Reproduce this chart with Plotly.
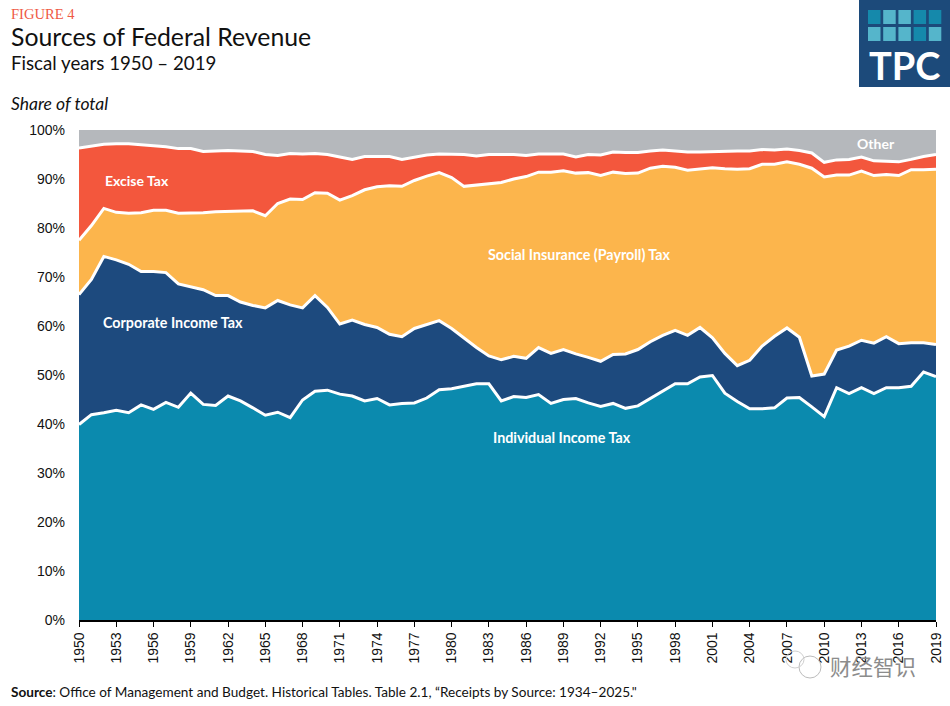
import plotly.graph_objects as go

years = list(range(1950, 2020))

# top edge of each band (percent of total, cumulative)
individual_top = [39.9, 41.9, 42.3, 42.8, 42.3, 43.9, 43.0, 44.4, 43.4, 46.3,
                  44.0, 43.8, 45.7, 44.7, 43.3, 41.8, 42.4, 41.3, 44.9, 46.7,
                  46.9, 46.1, 45.7, 44.7, 45.2, 43.9, 44.2, 44.3, 45.3, 47.0,
                  47.2, 47.7, 48.2, 48.2, 44.7, 45.6, 45.4, 46.0, 44.2, 45.0,
                  45.2, 44.3, 43.6, 44.2, 43.2, 43.7, 45.2, 46.8, 48.2, 48.2,
                  49.6, 49.9, 46.3, 44.6, 43.1, 43.1, 43.3, 45.3, 45.4, 43.5,
                  41.5, 47.4, 46.2, 47.4, 46.2, 47.4, 47.4, 47.7, 50.6, 49.7]
corporate_top = [66.4, 69.5, 74.2, 73.5, 72.6, 71.1, 71.1, 70.9, 68.6, 68.0,
                 67.4, 66.2, 66.2, 64.9, 64.2, 63.7, 65.2, 64.3, 63.7, 66.2,
                 63.8, 60.4, 61.2, 60.3, 59.7, 58.3, 57.8, 59.5, 60.3, 61.1,
                 59.5, 57.6, 55.6, 53.9, 53.1, 53.8, 53.4, 55.6, 54.4, 55.2,
                 54.3, 53.6, 52.8, 54.2, 54.3, 55.2, 56.8, 58.1, 59.1, 58.1,
                 59.7, 57.6, 54.4, 51.9, 53.0, 55.9, 57.9, 59.6, 57.7, 49.8,
                 50.2, 55.1, 55.9, 57.1, 56.5, 57.8, 56.4, 56.6, 56.6, 56.2]
payroll_top = [77.5, 80.5, 84.0, 83.2, 83.0, 83.1, 83.6, 83.6, 83.0, 83.0,
               83.1, 83.3, 83.4, 83.5, 83.5, 82.5, 85.0, 85.9, 85.8, 87.2,
               87.1, 85.7, 86.6, 87.8, 88.4, 88.6, 88.5, 89.7, 90.6, 91.3,
               90.3, 88.5, 88.8, 89.1, 89.3, 90.0, 90.5, 91.4, 91.4, 91.7,
               91.2, 91.3, 90.7, 91.4, 91.1, 91.2, 92.2, 92.6, 92.4, 91.8,
               92.1, 92.3, 92.1, 92.0, 92.1, 93.0, 93.0, 93.5, 93.0, 92.2,
               90.4, 90.8, 90.8, 91.6, 90.7, 90.9, 90.7, 91.9, 91.9, 92.0]
excise_top = [96.3, 96.7, 97.1, 97.2, 97.2, 97.0, 96.8, 96.6, 96.2, 96.2,
              95.6, 95.7, 95.8, 95.7, 95.6, 95.0, 94.8, 95.2, 95.1, 95.2,
              95.0, 94.5, 94.0, 94.6, 94.6, 94.6, 94.0, 94.5, 94.9, 95.1,
              95.0, 95.0, 94.7, 95.0, 95.0, 95.0, 94.8, 95.1, 95.1, 95.1,
              94.5, 95.0, 94.9, 95.5, 95.4, 95.4, 95.7, 95.9, 95.7, 95.5,
              95.5, 95.6, 95.7, 95.7, 95.7, 96.0, 95.9, 96.1, 95.8, 95.3,
              93.4, 93.9, 94.0, 94.5, 93.7, 93.6, 93.5, 94.0, 94.6, 95.0]
other_top = [100.0] * len(years)

band_names = ["Individual Income Tax", "Corporate Income Tax",
              "Social Insurance (Payroll) Tax", "Excise Tax", "Other"]
band_tops = [individual_top, corporate_top, payroll_top, excise_top, other_top]
band_colors = ["#0b8aae", "#1d4a7e", "#fcb54c", "#f3573d", "#b5b8bc"]

x_ticks = list(range(1950, 2017, 3)) + [2019]
y_ticks = list(range(0, 101, 10))

W, H = 950, 706
L, R, T, B = 79, 14, 130, 86
PLOT_W = W - L - R  # plot area ends at x=936


def px(x):
    return (x - L) / PLOT_W


def py(y):
    return 1 - (y - T) / (H - T - B)


fig = go.Figure()

for i in range(len(band_names)):
    fig.add_trace(go.Scatter(
        x=years, y=band_tops[i], name=band_names[i], mode="lines",
        line=dict(width=0), fillcolor=band_colors[i],
        fill="tozeroy" if i == 0 else "tonexty", hoverinfo="x+y",
    ))

# white rules between the bands go on last so no fill covers them
for i in range(len(band_names) - 1):
    fig.add_trace(go.Scatter(
        x=years, y=band_tops[i], mode="lines", hoverinfo="skip",
        line=dict(color="white", width=3),
    ))

shapes = []
annos = []


def text(x, y, s, size, color="black", family="Lato", anchor="left", **kw):
    annos.append(dict(x=px(x), y=py(y), xref="paper", yref="paper", text=s,
                      showarrow=False, xanchor=anchor, yanchor="middle",
                      xshift=-1, font=dict(size=size, color=color, family=family), **kw))


def box(x0, y0, x1, y1, color):
    shapes.append(dict(type="rect", xref="paper", yref="paper",
                       x0=px(x0), x1=px(x1), y0=py(y0), y1=py(y1),
                       fillcolor=color, line=dict(width=0)))


# header
text(10, 14, "FIGURE 4", 14.6, "#ef5a45", "Liberation Serif")
text(10, 37, "Sources of Federal Revenue", 24.8, "#111111", "Lato")
text(10, 63, "Fiscal years 1950 – 2019", 18.7, "#111111", "Lato")
text(10, 103, "<i>Share of total</i>", 17.5, "#111111", "Lato")

# band labels
text(104, 180, "<b>Excise Tax</b>", 14, "white")
text(102, 322, "<b>Corporate Income Tax</b>", 14.3, "white")
text(487, 255, "<b>Social Insurance (Payroll) Tax</b>", 14.3, "white")
text(492, 437, "<b>Individual Income Tax</b>", 14.3, "white")
text(856, 143, "<b>Other</b>", 14, "white")

# source line
text(10, 692, "<b>Source</b>: Office of Management and Budget. Historical Tables. "
     "Table 2.1, “Receipts by Source: 1934–2025.\"", 13.6, "#111111", "Lato")

# TPC logo
box(859, 0, 950, 87, "#1c4a7a")
row1 = ["#1589ab", "#55b5cb", "#55b5cb", "#1589ab", "#1589ab"]
row2 = ["#55b5cb", "#55b5cb", "#55b5cb", "#1589ab", "#55b5cb"]
for j in range(5):
    x0 = 868 + j * 15.2
    box(x0, 10, x0 + 12.5, 24, row1[j])
    box(x0, 27, x0 + 12.5, 41, row2[j])
text(905, 65, "<b>TPC</b>", 38, "white", "Lato", anchor="center")

# watermark
text(829, 665, "财经智识", 21.5, "#8c8c8c", "Noto Sans CJK SC")
shapes.append(dict(type="circle", xref="paper", yref="paper",
                   x0=px(799), x1=px(821), y0=py(656), y1=py(678),
                   line=dict(color="#bcbcbc", width=1)))
shapes.append(dict(type="circle", xref="paper", yref="paper",
                   x0=px(786), x1=px(804), y0=py(651), y1=py(668),
                   line=dict(color="#cfcfcf", width=1)))

fig.update_layout(
    width=W, height=H, autosize=False,
    margin=dict(l=L, r=R, t=T, b=B),
    paper_bgcolor="white", plot_bgcolor="white",
    showlegend=False, shapes=shapes, annotations=annos,
    font=dict(family="Liberation Sans", color="#111111"),
    xaxis=dict(range=[1950, 2019], tickmode="array", tickvals=x_ticks,
               ticktext=[str(v) for v in x_ticks], tickangle=-90,
               ticks="outside", ticklen=5, tickwidth=1.2, tickcolor="black",
               showline=True, linecolor="black", linewidth=1.5,
               automargin=False, ticklabeloverflow="allow",
               showgrid=False, zeroline=False, tickfont=dict(size=14)),
    yaxis=dict(range=[0, 100], tickmode="array", tickvals=y_ticks,
               ticktext=[f"{v}%" for v in y_ticks], ticklabelstandoff=13,
               ticks="", showline=False, showgrid=False, zeroline=False,
               tickfont=dict(size=14)),
)

# the page's default 8px body margin would push the 950x706 figure out of the window
fig.write_html("out.html", config=dict(displayModeBar=False),
               post_script="document.body.style.margin='0';")
